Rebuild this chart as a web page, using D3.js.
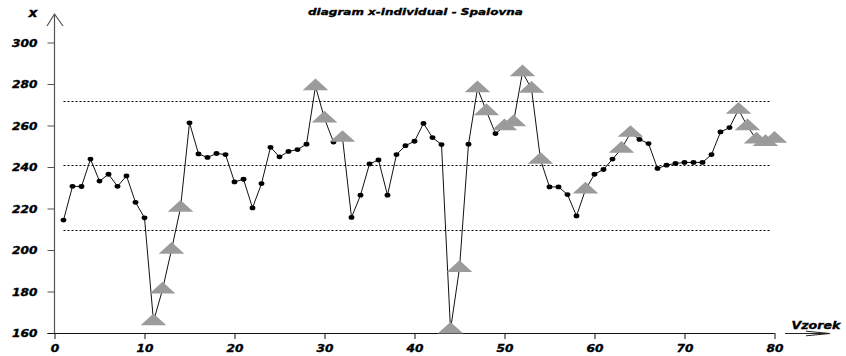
<!DOCTYPE html>
<html>
<head>
<meta charset="utf-8">
<script src="https://cdn.jsdelivr.net/npm/d3@7/dist/d3.min.js"></script>
<style>
  html, body { margin: 0; padding: 0; background: #fff; }
  svg { display: block; }
  text { font-family: "DejaVu Sans", Verdana, sans-serif; font-weight: bold; font-style: italic; fill: #000; stroke: #000; stroke-width: 0.35px; }
</style>
</head>
<body>
<svg id="chart" width="846" height="356"></svg>
<script>
// Individual measurements, sample 1..80
const samples = d3.range(1, 81);
const values = [
  214.4, 230.7, 230.6, 243.8, 233.2, 236.5, 230.7, 235.7, 223.0, 215.5,
  165.6, 180.9, 200.1, 220.3, 261.3, 246.3, 244.6, 246.5, 246.0, 232.8,
  234.1, 220.3, 232.0, 249.5, 244.9, 247.5, 248.4, 251.0, 278.9, 263.3,
  252.0, 254.0, 215.7, 226.4, 241.5, 243.4, 226.4, 246.0, 250.3, 252.4,
  261.0, 254.2, 250.8, 161.6, 191.3, 251.0, 277.9, 266.8, 256.1, 259.6,
  261.5, 285.6, 277.7, 243.5, 230.4, 230.4, 226.7, 216.4, 229.1, 236.5,
  238.8, 243.8, 248.8, 256.4, 253.3, 251.3, 239.3, 240.9, 241.7, 242.2,
  242.2, 242.2, 246.0, 256.9, 259.0, 267.6, 259.6, 253.2, 252.0, 253.6
];
// Samples flagged by the run/limit rules
const flagged = [11, 12, 13, 14, 29, 30, 32, 44, 45, 47, 48, 50, 51, 52, 53, 54, 59, 63, 64, 76, 77, 78, 79, 80];
// Control limits: LCL, centre line, UCL
const limits = [209.6, 240.8, 272.0];
const xTicks = [0, 10, 20, 30, 40, 50, 60, 70, 80];
const yTicks = [160, 180, 200, 220, 240, 260, 280, 300];
const title = "diagram x-individual - Spalovna";
const xLabel = "Vzorek";
const yLabel = "x";

const svg = d3.select("#chart");
const x = d3.scaleLinear().domain([0, 80]).range([54.5, 774.5]);
const y = d3.scaleLinear().domain([160, 300]).range([333, 42.5]);

const data = samples.map((s, i) => ({ s, v: values[i], flag: flagged.includes(s) }));

// stretch bold italic text horizontally to get the wide lettering
function widen(sel, k) {
  sel.each(function () {
    const w = this.getComputedTextLength();
    d3.select(this).attr("textLength", w * k).attr("lengthAdjust", "spacingAndGlyphs");
  });
}

// control limit lines
svg.append("g").selectAll("line").data(limits).join("line")
  .attr("x1", x(1)).attr("x2", x(79.6))
  .attr("y1", d => Math.round(y(d)) + 0.5).attr("y2", d => Math.round(y(d)) + 0.5)
  .attr("stroke", "#000").attr("stroke-width", 1).attr("stroke-dasharray", "2,2");

// y axis
const gy = svg.append("g").attr("transform", `translate(${x(0)},0)`)
  .call(d3.axisLeft(y).tickValues(yTicks).tickSize(7).tickPadding(10).tickFormat(d3.format("d")));
gy.select(".domain").remove();
gy.selectAll(".tick line").attr("stroke", "#555");
gy.selectAll(".tick text").attr("font-size", 10).attr("font-family", null).attr("dy", "0.36em").call(widen, 1.22);
svg.append("path")
  .attr("d", `M${x(0)},${y(160)}V14M${x(0) - 7.5},26L${x(0)},14L${x(0) + 8.5},26`)
  .attr("fill", "none").attr("stroke", "#555").attr("stroke-width", 1.2);

// x axis
const gx = svg.append("g").attr("transform", `translate(0,${y(160)})`)
  .call(d3.axisBottom(x).tickValues(xTicks).tickSize(6).tickPadding(5.5).tickFormat(d3.format("d")));
gx.select(".domain").attr("d", `M${x(0) - 7},0.5H${x(80)}`).attr("stroke", "#111");
gx.selectAll(".tick line").attr("stroke", "#111");
gx.selectAll(".tick text").attr("font-size", 10).attr("font-family", null).call(widen, 1.22);

// x axis arrow next to the label
svg.append("path")
  .attr("d", "M785,333.5H830M806,331.2L830,333.5L806,335.8")
  .attr("fill", "none").attr("stroke", "#222").attr("stroke-width", 1);

// titles
svg.append("text").attr("x", 415.5).attr("y", 15).attr("text-anchor", "middle")
  .attr("font-size", 9.4).text(title).call(widen, 1.28);
svg.append("text").attr("x", 791.5).attr("y", 329.3)
  .attr("font-size", 10.5).text(xLabel).call(widen, 1.2);
svg.append("text").attr("x", 33).attr("y", 17.3).attr("text-anchor", "middle")
  .attr("font-size", 12).text(yLabel).call(widen, 1.15);

// data line
const line = d3.line().x(d => x(d.s)).y(d => y(d.v));
svg.append("path").datum(data).attr("d", line)
  .attr("fill", "none").attr("stroke", "#111").attr("stroke-width", 1);

// in-control samples
svg.append("g").selectAll("ellipse").data(data.filter(d => !d.flag)).join("ellipse")
  .attr("cx", d => x(d.s)).attr("cy", d => y(d.v))
  .attr("rx", 2.9).attr("ry", 2.4).attr("fill", "#000");

// flagged samples
const tw = 12.8, up = 7.8, down = 3.9;
svg.append("g").selectAll("path").data(data.filter(d => d.flag)).join("path")
  .attr("d", d => {
    const cx = x(d.s), cy = y(d.v);
    return `M${cx},${cy - up}L${cx + tw},${cy + down}L${cx - tw},${cy + down}Z`;
  })
  .attr("fill", "#9b9b9b");
</script>
</body>
</html>
